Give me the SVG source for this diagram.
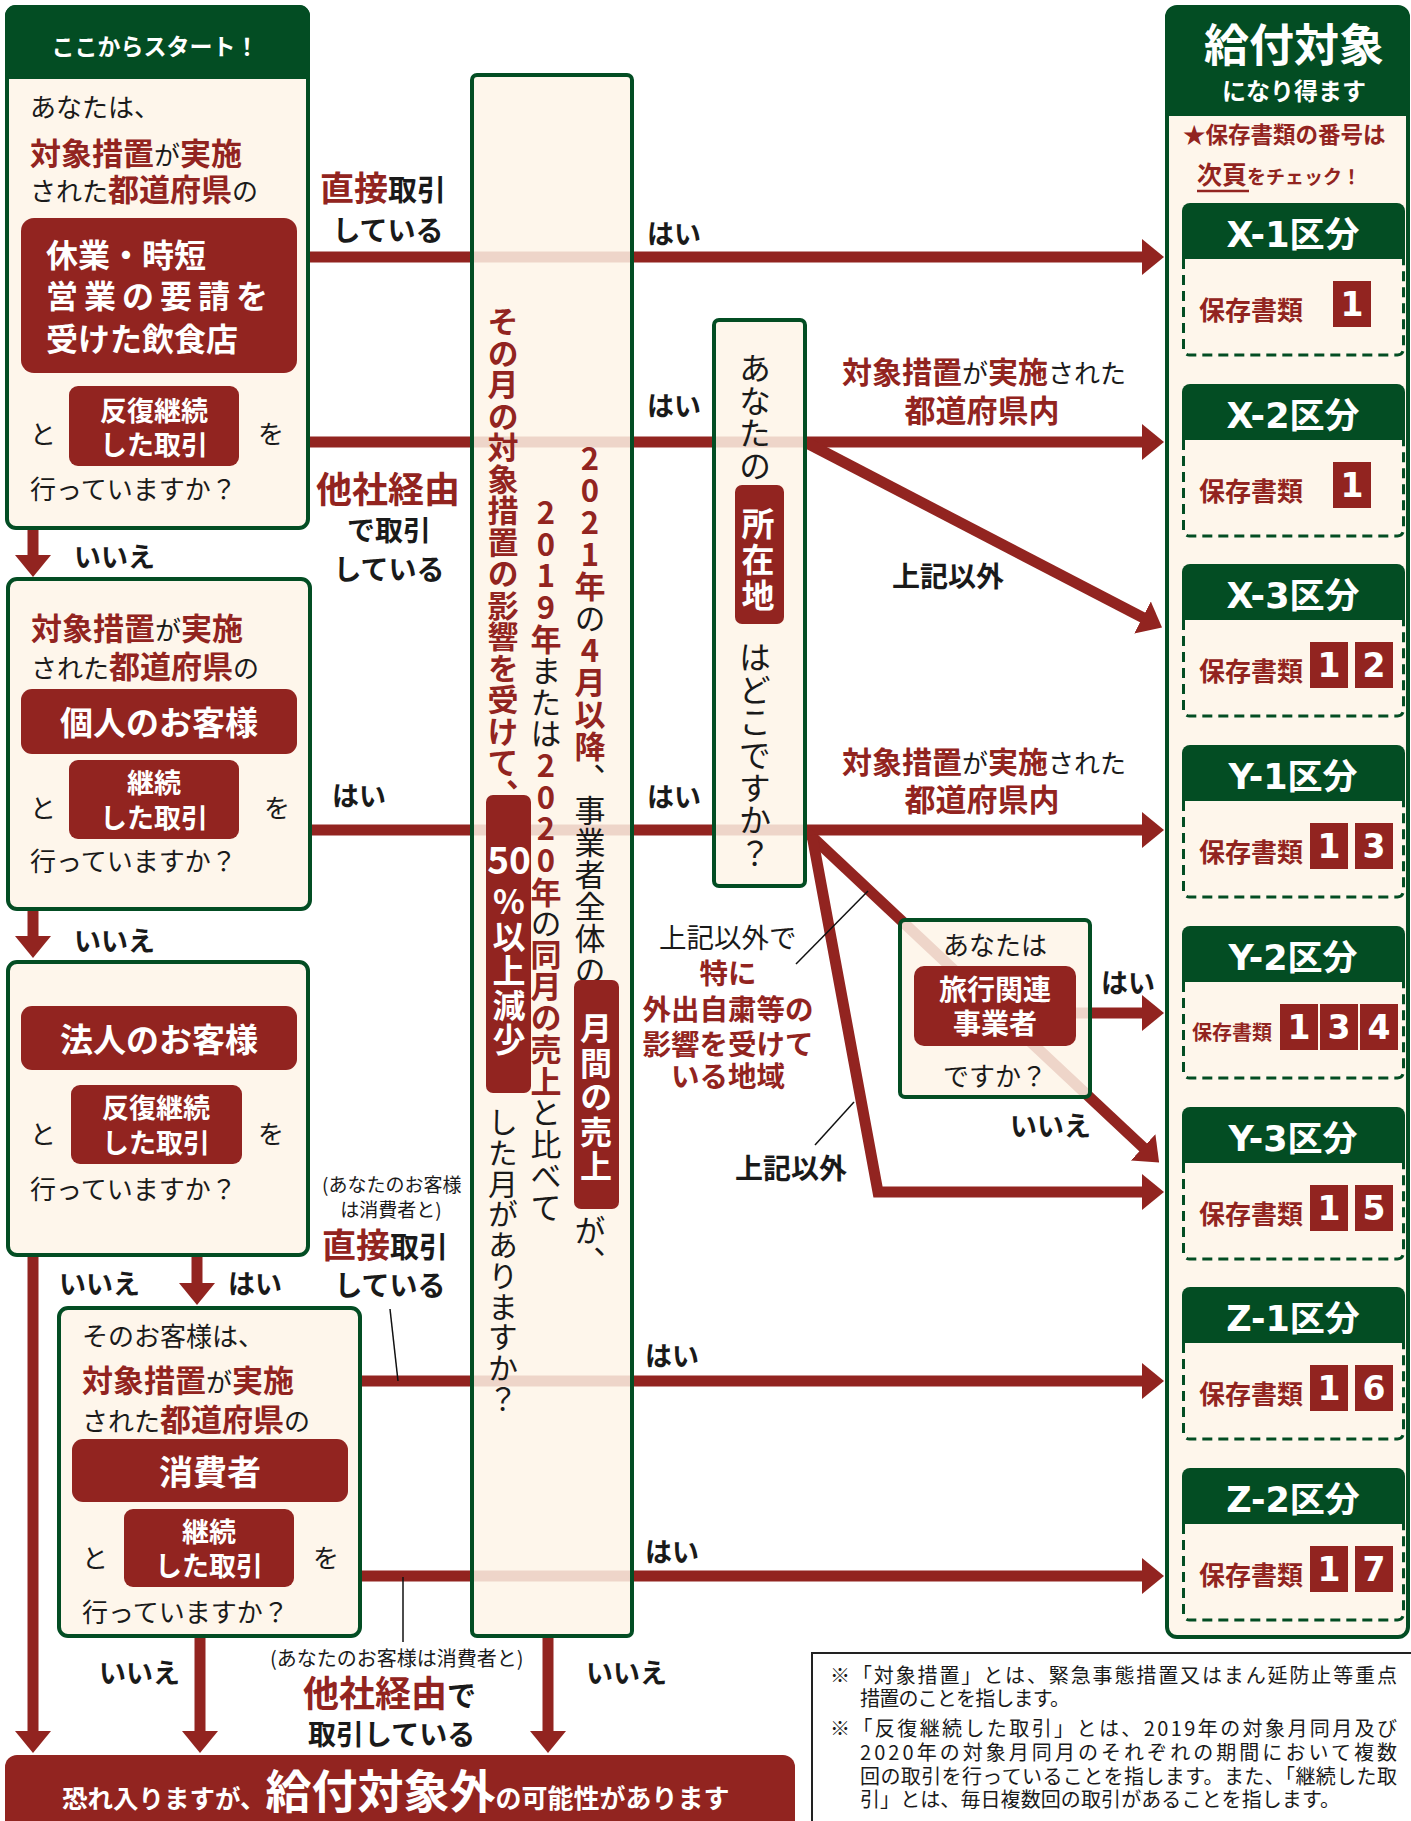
<svg xmlns="http://www.w3.org/2000/svg" width="1411" height="1821" viewBox="0 0 1411 1821">
<style>
text{font-family:"Noto Sans CJK JP","Noto Sans",sans-serif;}
.b{font-weight:700;}
.r{fill:#922420;}
.w{fill:#fff;}
.k{fill:#1a1a1a;}
.box{fill:#FEF4E8;fill-opacity:.85;stroke:#034D23;stroke-width:4;}
.rb{fill:#922420;}
.gh{fill:#034D23;}
.conn{stroke:#922420;stroke-width:11;fill:none;marker-end:url(#ah);}
.lead{stroke:#111;stroke-width:1.5;fill:none;}
.v{writing-mode:vertical-rl;text-orientation:upright;}
.dash{fill:none;stroke:#034D23;stroke-width:3;stroke-dasharray:10 6;}
.ttl{font-family:"DejaVu Sans","Noto Sans CJK JP",sans-serif;font-weight:700;fill:#fff;font-size:35px;}
.num{font-family:"DejaVu Sans",sans-serif;font-weight:700;fill:#fff;font-size:33px;}
.lbl{font-weight:700;fill:#922420;font-size:26px;}
.lbls{font-weight:700;fill:#922420;font-size:20px;}
.yn{font-weight:700;fill:#1a1a1a;font-size:27px;}
.fn{fill:#1a1a1a;font-size:20px;}
</style>
<defs>
<marker id="ah" viewBox="0 0 22 36" refX="1" refY="18" markerWidth="22" markerHeight="36" markerUnits="userSpaceOnUse" orient="auto"><path d="M0,0 L22,18 L0,36 Z" fill="#922420"/></marker>
</defs>
<rect width="1411" height="1821" fill="#fff"/>

<g id="connectors">
<path class="conn" d="M308,257 H1143"/>
<path class="conn" d="M308,442 H1143"/>
<path class="conn" d="M310,830 H1143"/>
<path class="conn" d="M805,442 L1143.4,617.9"/>
<path class="conn" d="M808,833 L1143.8,1148.1"/>
<path class="conn" d="M812,835 L878,1192 H1143" stroke-linejoin="miter"/>
<path class="conn" d="M1000,1013 H1143"/>
<path class="conn" d="M360,1381 H1143"/>
<path class="conn" d="M360,1576 H1143"/>
<path class="conn" d="M33,528 V556"/>
<path class="conn" d="M33,909 V937"/>
<path class="conn" d="M33,1255 V1732"/>
<path class="conn" d="M197,1255 V1284"/>
<path class="conn" d="M200,1636 V1732"/>
<path class="conn" d="M548,1636 V1732"/>
<path class="lead" d="M796,964 L868,891"/>
<path class="lead" d="M815,1145 L854,1102"/>
<path class="lead" d="M390,1309 L398,1381"/>
<path class="lead" d="M403,1577 L403,1642"/>
<g id="labels">
<text x="320" y="201"><tspan class="b r" font-size="34">直接</tspan><tspan class="b k" font-size="29">取引</tspan></text>
<text x="388" y="241" text-anchor="middle" class="b k" font-size="28">している</text>
<text x="316" y="503" class="b r" font-size="36">他社経由</text>
<text x="389" y="541" text-anchor="middle" class="b k" font-size="28">で取引</text>
<text x="389" y="580" text-anchor="middle" class="b k" font-size="28">している</text>
<text x="322" y="1192" class="k" font-size="19">(あなたのお客様</text>
<text x="391" y="1217" text-anchor="middle" class="k" font-size="19">は消費者と)</text>
<text x="322" y="1258"><tspan class="b r" font-size="34">直接</tspan><tspan class="b k" font-size="29">取引</tspan></text>
<text x="390" y="1296" text-anchor="middle" class="b k" font-size="28">している</text>
<text x="270" y="1666" class="k" font-size="20">(あなたのお客様は消費者と)</text>
<text x="303" y="1707"><tspan class="b r" font-size="36">他社経由</tspan><tspan class="b k" font-size="29">で</tspan></text>
<text x="308" y="1745" class="b k" font-size="28">取引している</text>
<text x="647" y="244" class="yn">はい</text>
<text x="647" y="416" class="yn">はい</text>
<text x="647" y="807" class="yn">はい</text>
<text x="332" y="806" class="yn">はい</text>
<text x="645" y="1366" class="yn">はい</text>
<text x="645" y="1562" class="yn">はい</text>
<text x="1101" y="993" class="yn">はい</text>
<text x="228" y="1294" class="yn">はい</text>
<text x="74" y="567" class="yn">いいえ</text>
<text x="74" y="951" class="yn">いいえ</text>
<text x="59" y="1294" class="yn">いいえ</text>
<text x="99" y="1683" class="yn">いいえ</text>
<text x="586" y="1683" class="yn">いいえ</text>
<text x="1010" y="1136" class="yn">いいえ</text>
<text x="842" y="383"><tspan class="b r" font-size="30">対象措置</tspan><tspan class="k" font-size="26">が</tspan><tspan class="b r" font-size="30">実施</tspan><tspan class="k" font-size="26">された</tspan></text>
<text x="982" y="422" text-anchor="middle" class="b r" font-size="31">都道府県内</text>
<text x="892" y="587" class="b k" font-size="28">上記以外</text>
<text x="842" y="773"><tspan class="b r" font-size="30">対象措置</tspan><tspan class="k" font-size="26">が</tspan><tspan class="b r" font-size="30">実施</tspan><tspan class="k" font-size="26">された</tspan></text>
<text x="982" y="811" text-anchor="middle" class="b r" font-size="31">都道府県内</text>
<text x="659" y="948" class="k" font-size="27.5">上記以外で</text>
<text x="728" y="984" text-anchor="middle" class="b r" font-size="28.5">特に</text>
<text x="728" y="1020" text-anchor="middle" class="b r" font-size="28.5">外出自粛等の</text>
<text x="728" y="1055" text-anchor="middle" class="b r" font-size="28.5">影響を受けて</text>
<text x="728" y="1087" text-anchor="middle" class="b r" font-size="28.5">いる地域</text>
<text x="735" y="1179" class="b k" font-size="28">上記以外</text>
</g>
</g>

<g id="start">
<rect x="7" y="7" width="301" height="521" rx="9" class="box"/>
<path class="gh" d="M5,79 V16 a11,11 0 0 1 11,-11 H299 a11,11 0 0 1 11,11 V79 Z"/>
<text x="155" y="55" text-anchor="middle" class="b w" font-size="23">ここからスタート！</text>
<text x="30" y="117" class="k" font-size="26">あなたは、</text>
<text x="30" y="165"><tspan class="b r" font-size="31">対象措置</tspan><tspan class="k" font-size="26">が</tspan><tspan class="b r" font-size="31">実施</tspan></text>
<text x="30" y="201"><tspan class="k" font-size="26">された</tspan><tspan class="b r" font-size="31">都道府県</tspan><tspan class="k" font-size="26">の</tspan></text>
<rect x="21" y="218" width="276" height="155" rx="13" class="rb"/>
<text x="46" y="267" class="b w" font-size="32">休業・時短</text>
<text x="46" y="308" class="b w" font-size="32" letter-spacing="6">営業の要請を</text>
<text x="46" y="351" class="b w" font-size="32">受けた飲食店</text>
<text x="30" y="444" class="k" font-size="26">と</text>
<rect x="69" y="386" width="170" height="80" rx="9" class="rb"/>
<text x="154" y="421" text-anchor="middle" class="b w" font-size="27">反復継続</text>
<text x="154" y="455" text-anchor="middle" class="b w" font-size="27">した取引</text>
<text x="258" y="444" class="k" font-size="26">を</text>
<text x="30" y="499" class="k" font-size="26">行っていますか？</text>
</g>

<g id="individual">
<rect x="8" y="579" width="302" height="330" rx="9" class="box"/>
<text x="31" y="640"><tspan class="b r" font-size="31">対象措置</tspan><tspan class="k" font-size="26">が</tspan><tspan class="b r" font-size="31">実施</tspan></text>
<text x="31" y="678"><tspan class="k" font-size="26">された</tspan><tspan class="b r" font-size="31">都道府県</tspan><tspan class="k" font-size="26">の</tspan></text>
<rect x="21" y="689" width="276" height="65" rx="11" class="rb"/>
<text x="159" y="735" text-anchor="middle" class="b w" font-size="33">個人のお客様</text>
<text x="30" y="818" class="k" font-size="26">と</text>
<rect x="69" y="760" width="170" height="79" rx="9" class="rb"/>
<text x="154" y="793" text-anchor="middle" class="b w" font-size="27">継続</text>
<text x="154" y="828" text-anchor="middle" class="b w" font-size="27">した取引</text>
<text x="264" y="818" class="k" font-size="26">を</text>
<text x="30" y="871" class="k" font-size="26">行っていますか？</text>
</g>

<g id="corporate">
<rect x="8" y="962" width="300" height="293" rx="9" class="box"/>
<rect x="21" y="1006" width="276" height="64" rx="11" class="rb"/>
<text x="159" y="1052" text-anchor="middle" class="b w" font-size="33">法人のお客様</text>
<text x="30" y="1144" class="k" font-size="26">と</text>
<rect x="71" y="1085" width="171" height="79" rx="9" class="rb"/>
<text x="156" y="1118" text-anchor="middle" class="b w" font-size="27">反復継続</text>
<text x="156" y="1153" text-anchor="middle" class="b w" font-size="27">した取引</text>
<text x="258" y="1144" class="k" font-size="26">を</text>
<text x="30" y="1199" class="k" font-size="26">行っていますか？</text>
</g>

<g id="consumer">
<rect x="59" y="1308" width="301" height="328" rx="9" class="box"/>
<text x="82" y="1346" class="k" font-size="26">そのお客様は、</text>
<text x="82" y="1392"><tspan class="b r" font-size="31">対象措置</tspan><tspan class="k" font-size="26">が</tspan><tspan class="b r" font-size="31">実施</tspan></text>
<text x="82" y="1431"><tspan class="k" font-size="26">された</tspan><tspan class="b r" font-size="31">都道府県</tspan><tspan class="k" font-size="26">の</tspan></text>
<rect x="72" y="1439" width="276" height="63" rx="11" class="rb"/>
<text x="210" y="1485" text-anchor="middle" class="b w" font-size="34">消費者</text>
<text x="82" y="1568" class="k" font-size="26">と</text>
<rect x="124" y="1509" width="170" height="78" rx="9" class="rb"/>
<text x="209" y="1542" text-anchor="middle" class="b w" font-size="27">継続</text>
<text x="209" y="1576" text-anchor="middle" class="b w" font-size="27">した取引</text>
<text x="313" y="1568" class="k" font-size="26">を</text>
<text x="82" y="1622" class="k" font-size="26">行っていますか？</text>
</g>

<g id="sales">
<rect x="472" y="75" width="160" height="1561" rx="5" class="box"/>
<text x="503" y="306" class="v b r" font-size="31" letter-spacing="0.5">その月の対象措置の影響を受けて、</text>
<rect x="486" y="795" width="45" height="298" rx="7" class="rb"/>
<text x="509" y="874" text-anchor="middle" class="b w" font-size="37">50</text>
<text x="509" y="885" class="v b w" font-size="33" letter-spacing="1.5">%以上減少</text>
<text x="503" y="1107" class="v k" font-size="30" letter-spacing="0.7">した月がありますか？</text>
<text x="546" y="497" class="v" font-size="31" letter-spacing="0.6"><tspan class="b r">2019年</tspan><tspan class="k">または</tspan><tspan class="b r">2020年</tspan><tspan class="k">の</tspan><tspan class="b r">同月の売上</tspan><tspan class="k">と比べて</tspan></text>
<text x="590" y="443" class="v" font-size="31" letter-spacing="1"><tspan class="b r">2021年</tspan><tspan class="k">の</tspan><tspan class="b r">4月以降</tspan><tspan class="k">、事業者全体の</tspan></text>
<rect x="574" y="980" width="45" height="229" rx="7" class="rb"/>
<text x="596" y="1012" class="v b w" font-size="32" letter-spacing="2.5">月間の売上</text>
<text x="590" y="1215" class="v k" font-size="31">が、</text>
</g>

<g id="location">
<rect x="714" y="320" width="91" height="566" rx="5" class="box"/>
<text x="755" y="352" class="v k" font-size="32" letter-spacing="0.6">あなたの</text>
<rect x="735" y="485" width="49" height="139" rx="7" class="rb"/>
<text x="758" y="507" class="v b w" font-size="33" letter-spacing="3">所在地</text>
<text x="755" y="641" class="v k" font-size="32" letter-spacing="0.6">はどこですか？</text>
</g>

<g id="travel">
<rect x="900" y="920" width="190" height="177" rx="5" class="box"/>
<text x="995" y="955" text-anchor="middle" class="k" font-size="26">あなたは</text>
<rect x="914" y="966" width="162" height="80" rx="10" class="rb"/>
<text x="995" y="1000" text-anchor="middle" class="b w" font-size="28">旅行関連</text>
<text x="995" y="1034" text-anchor="middle" class="b w" font-size="28">事業者</text>
<text x="995" y="1086" text-anchor="middle" class="k" font-size="26">ですか？</text>
</g>

<g id="result">
<rect x="1167" y="7" width="241" height="1630" rx="10" class="box" fill-opacity="1"/>
<path class="gh" d="M1165,116 V19 a12,12 0 0 1 12,-12 H1398 a12,12 0 0 1 12,12 V116 Z"/>
<text x="1294" y="62" text-anchor="middle" class="b w" font-size="45">給付対象</text>
<text x="1294" y="100" text-anchor="middle" class="b w" font-size="24">になり得ます</text>
<text x="1183" y="143" class="b r" font-size="22.5">★保存書類の番号は</text>
<text x="1197" y="184" class="b r"><tspan font-size="25">次頁</tspan><tspan font-size="19">をチェック！</tspan></text>
<line x1="1197" y1="191" x2="1249" y2="191" stroke="#922420" stroke-width="2.5"/>
</g>

<g id="X-1">
<path class="gh" d="M1182,259 V211 a8,8 0 0 1 8,-8 H1397 a8,8 0 0 1 8,8 V259 Z"/>
<path class="dash" d="M1183.5,259 V349 a6,6 0 0 0 6,6 H1397.5 a6,6 0 0 0 6,-6 V259"/>
<text x="1293" y="247" text-anchor="middle" class="ttl">X-1区分</text>
<text x="1199" y="320" class="lbl">保存書類</text>
<rect x="1333" y="281" width="38" height="46" class="rb"/><text x="1352" y="316" text-anchor="middle" class="num">1</text>
</g>
<g id="X-2">
<path class="gh" d="M1182,440 V392 a8,8 0 0 1 8,-8 H1397 a8,8 0 0 1 8,8 V440 Z"/>
<path class="dash" d="M1183.5,440 V530 a6,6 0 0 0 6,6 H1397.5 a6,6 0 0 0 6,-6 V440"/>
<text x="1293" y="428" text-anchor="middle" class="ttl">X-2区分</text>
<text x="1199" y="501" class="lbl">保存書類</text>
<rect x="1333" y="462" width="38" height="46" class="rb"/><text x="1352" y="497" text-anchor="middle" class="num">1</text>
</g>
<g id="X-3">
<path class="gh" d="M1182,620 V572 a8,8 0 0 1 8,-8 H1397 a8,8 0 0 1 8,8 V620 Z"/>
<path class="dash" d="M1183.5,620 V710 a6,6 0 0 0 6,6 H1397.5 a6,6 0 0 0 6,-6 V620"/>
<text x="1293" y="608" text-anchor="middle" class="ttl">X-3区分</text>
<text x="1199" y="681" class="lbl">保存書類</text>
<rect x="1310" y="642" width="38" height="46" class="rb"/><text x="1329" y="677" text-anchor="middle" class="num">1</text>
<rect x="1355" y="642" width="38" height="46" class="rb"/><text x="1374" y="677" text-anchor="middle" class="num">2</text>
</g>
<g id="Y-1">
<path class="gh" d="M1182,801 V753 a8,8 0 0 1 8,-8 H1397 a8,8 0 0 1 8,8 V801 Z"/>
<path class="dash" d="M1183.5,801 V891 a6,6 0 0 0 6,6 H1397.5 a6,6 0 0 0 6,-6 V801"/>
<text x="1293" y="789" text-anchor="middle" class="ttl">Y-1区分</text>
<text x="1199" y="862" class="lbl">保存書類</text>
<rect x="1310" y="823" width="38" height="46" class="rb"/><text x="1329" y="858" text-anchor="middle" class="num">1</text>
<rect x="1355" y="823" width="38" height="46" class="rb"/><text x="1374" y="858" text-anchor="middle" class="num">3</text>
</g>
<g id="Y-2">
<path class="gh" d="M1182,982 V934 a8,8 0 0 1 8,-8 H1397 a8,8 0 0 1 8,8 V982 Z"/>
<path class="dash" d="M1183.5,982 V1072 a6,6 0 0 0 6,6 H1397.5 a6,6 0 0 0 6,-6 V982"/>
<text x="1293" y="970" text-anchor="middle" class="ttl">Y-2区分</text>
<text x="1192" y="1040" class="lbls">保存書類</text>
<rect x="1280" y="1004" width="38" height="46" class="rb"/><text x="1299" y="1039" text-anchor="middle" class="num">1</text>
<rect x="1320" y="1004" width="38" height="46" class="rb"/><text x="1339" y="1039" text-anchor="middle" class="num">3</text>
<rect x="1360" y="1004" width="38" height="46" class="rb"/><text x="1379" y="1039" text-anchor="middle" class="num">4</text>
</g>
<g id="Y-3">
<path class="gh" d="M1182,1163 V1115 a8,8 0 0 1 8,-8 H1397 a8,8 0 0 1 8,8 V1163 Z"/>
<path class="dash" d="M1183.5,1163 V1253 a6,6 0 0 0 6,6 H1397.5 a6,6 0 0 0 6,-6 V1163"/>
<text x="1293" y="1151" text-anchor="middle" class="ttl">Y-3区分</text>
<text x="1199" y="1224" class="lbl">保存書類</text>
<rect x="1310" y="1185" width="38" height="46" class="rb"/><text x="1329" y="1220" text-anchor="middle" class="num">1</text>
<rect x="1355" y="1185" width="38" height="46" class="rb"/><text x="1374" y="1220" text-anchor="middle" class="num">5</text>
</g>
<g id="Z-1">
<path class="gh" d="M1182,1343 V1295 a8,8 0 0 1 8,-8 H1397 a8,8 0 0 1 8,8 V1343 Z"/>
<path class="dash" d="M1183.5,1343 V1433 a6,6 0 0 0 6,6 H1397.5 a6,6 0 0 0 6,-6 V1343"/>
<text x="1293" y="1331" text-anchor="middle" class="ttl">Z-1区分</text>
<text x="1199" y="1404" class="lbl">保存書類</text>
<rect x="1310" y="1365" width="38" height="46" class="rb"/><text x="1329" y="1400" text-anchor="middle" class="num">1</text>
<rect x="1355" y="1365" width="38" height="46" class="rb"/><text x="1374" y="1400" text-anchor="middle" class="num">6</text>
</g>
<g id="Z-2">
<path class="gh" d="M1182,1524 V1476 a8,8 0 0 1 8,-8 H1397 a8,8 0 0 1 8,8 V1524 Z"/>
<path class="dash" d="M1183.5,1524 V1614 a6,6 0 0 0 6,6 H1397.5 a6,6 0 0 0 6,-6 V1524"/>
<text x="1293" y="1512" text-anchor="middle" class="ttl">Z-2区分</text>
<text x="1199" y="1585" class="lbl">保存書類</text>
<rect x="1310" y="1546" width="38" height="46" class="rb"/><text x="1329" y="1581" text-anchor="middle" class="num">1</text>
<rect x="1355" y="1546" width="38" height="46" class="rb"/><text x="1374" y="1581" text-anchor="middle" class="num">7</text>
</g>

<g id="not-eligible">
<rect x="5" y="1755" width="790" height="100" rx="12" class="rb"/>
<text x="62" y="1808" class="b w"><tspan font-size="25.5">恐れ入りますが、</tspan><tspan font-size="46">給付対象外</tspan><tspan font-size="26">の可能性があります</tspan></text>
</g>

<g id="footnote">
<rect x="812" y="1653" width="620" height="200" fill="#fff" stroke="#222" stroke-width="2"/>
<text x="830" y="1683" class="fn" textLength="567">※「対象措置」とは、緊急事態措置又はまん延防止等重点</text>
<text x="860" y="1706" class="fn" textLength="210">措置のことを指します。</text>
<text x="830" y="1736" class="fn" textLength="567">※「反復継続した取引」とは、2019年の対象月同月及び</text>
<text x="860" y="1760" class="fn" textLength="537">2020年の対象月同月のそれぞれの期間において複数</text>
<text x="860" y="1784" class="fn" textLength="537">回の取引を行っていることを指します。また、「継続した取</text>
<text x="860" y="1807" class="fn" textLength="480">引」とは、毎日複数回の取引があることを指します。</text>
</g>
</svg>
